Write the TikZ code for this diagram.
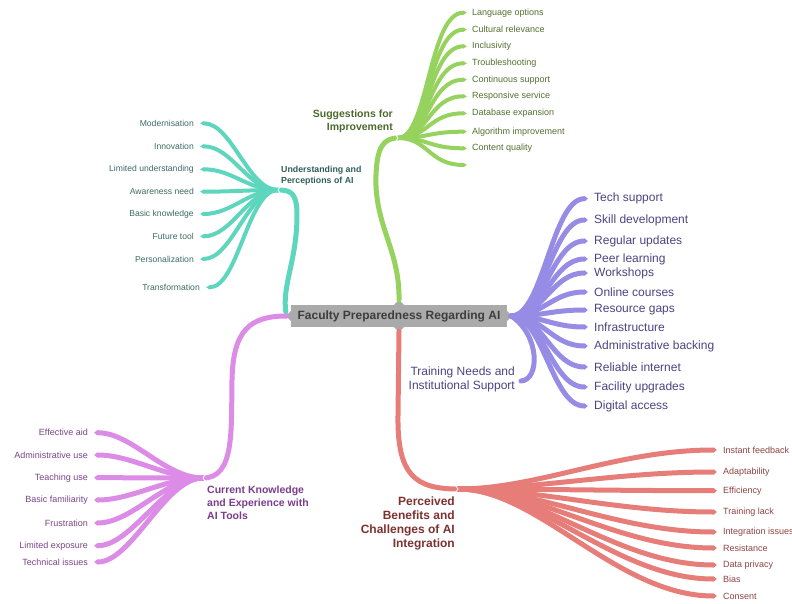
\documentclass[tikz,border=0pt]{standalone}
\usepackage{fontspec}
\setmainfont{Liberation Sans}
\usetikzlibrary{arrows.meta}
\definecolor{cgreen}{HTML}{96D25E}
\definecolor{cteal}{HTML}{5ED6BE}
\definecolor{cpurple}{HTML}{968CE6}
\definecolor{cred}{HTML}{E67D78}
\definecolor{cpink}{HTML}{DC8CE6}
\definecolor{cgray}{HTML}{AAAAAA}
\definecolor{tgreen}{HTML}{52702F}
\definecolor{tteal}{HTML}{3C6B64}
\definecolor{tpurple}{HTML}{4B4382}
\definecolor{tred}{HTML}{8E4242}
\definecolor{tpink}{HTML}{7A4486}
\definecolor{lgreen}{HTML}{4C6A2C}
\definecolor{lteal}{HTML}{2E5E58}
\definecolor{lpink}{HTML}{7B3C8E}
\definecolor{lred}{HTML}{7D3131}
\definecolor{tgray}{HTML}{3D3D3D}
\begin{document}
\begin{tikzpicture}[x=1pt,y=-1pt,
  stem/.style={line width=5pt, line cap=round},
  leaf/.style={line width=#1, line cap=round, -{Triangle[length=4pt,width=0pt 1]}},
  leaf/.default=4.5pt,
  ltxt/.style={inner sep=0pt, font=\fontsize{9}{11}\selectfont},
  chev/.style={white, line width=0.8pt},
]
\useasboundingbox (0,0) rectangle (792,604);

% central node
\node[fill=cgray, text=tgray, minimum width=216pt, minimum height=22pt, inner sep=0pt,
      font=\fontsize{12}{14}\selectfont\bfseries] (c) at (399,316) {Faculty Preparedness Regarding AI};
\fill[cgray] ([yshift=5pt]c.north) -- ([xshift=5pt]c.north) -- ([xshift=-5pt]c.north) -- cycle;
\fill[cgray] ([yshift=-5pt]c.south) -- ([xshift=5pt]c.south) -- ([xshift=-5pt]c.south) -- cycle;
\fill[cgray] ([xshift=-5pt]c.west) -- ([yshift=5pt]c.west) -- ([yshift=-5pt]c.west) -- cycle;
\fill[cgray] ([xshift=5pt]c.east) -- ([yshift=5pt]c.east) -- ([yshift=-5pt]c.east) -- cycle;

% ---------------- green: Suggestions for Improvement
\coordinate (jg) at (398,138);
\begin{scope}[on background layer/.style={}]
\draw[stem, cgreen] ([yshift=5pt]c.north) .. controls (400,250) and (374,225) .. (376,175)
   .. controls (377,148) and (383,138) .. (jg);
\end{scope}
\foreach \t/\y [count=\i] in {Language options/12.7, Cultural relevance/29.7, Inclusivity/46.3,
   Troubleshooting/63.3, Continuous support/79.7, Responsive service/96.3,
   Database expansion/113.3, Algorithm improvement/131.7, Content quality/148.3}{
  \node[ltxt, text=tgreen, anchor=west] (g\i) at (472,\y) {\t};
  \draw[leaf=4pt, cgreen] (jg) .. controls +(30,0) and +(-38,0) .. ([xshift=-5pt]g\i.west);
}
\coordinate (g10) at (467,165);
\draw[leaf=4pt, cgreen] (jg) .. controls +(30,0) and +(-38,0) .. (g10);
\draw[chev] ([shift={(-2,-3)}]jg) -- (jg) -- ([shift={(-2,3)}]jg);
\node[anchor=east, align=right, inner sep=0pt, text=lgreen,
      font=\fontsize{10.5}{13}\selectfont\bfseries] (lg) at (393,121.5) {Suggestions for\\Improvement};

% ---------------- teal: Understanding and Perceptions of AI
\coordinate (jt) at (278,190);
\draw[stem, cteal] ([xshift=-5pt,yshift=4pt]c.west) .. controls (282,285) and (297,260) .. (297,215)
   .. controls (297,192) and (290,190) .. (jt);
\foreach \t/\y [count=\i] in {Modernisation/123.3, Innovation/146.3, Limited understanding/169.3,
   Awareness need/191.7, Basic knowledge/214, Future tool/236.3, Personalization/259}{
  \node[ltxt, text=tteal, anchor=east, font=\fontsize{8.6}{10}\selectfont] (t\i) at (194,\y) {\t};
  \draw[leaf=4pt, cteal] (jt) .. controls +(-30,0) and +(32,0) .. ([xshift=6pt]t\i.east);
}
\node[ltxt, text=tteal, anchor=east, font=\fontsize{8.6}{10}\selectfont] (t8) at (200,287.3) {Transformation};
\draw[leaf=4pt, cteal] (jt) .. controls +(-30,0) and +(32,0) .. ([xshift=6pt]t8.east);
\draw[chev] ([shift={(2,-3)}]jt) -- (jt) -- ([shift={(2,3)}]jt);
\node[anchor=west, align=left, inner sep=0pt, text=lteal,
      font=\fontsize{8.8}{11}\selectfont\bfseries] (lt) at (281,175.5) {Understanding and\\Perceptions of AI};

% ---------------- pink: Current Knowledge and Experience with AI Tools
\coordinate (jp) at (203,478);
\draw[stem, cpink] ([xshift=-4pt]c.west) .. controls (250,316) and (233,330) .. (232,380)
   .. controls (231,430) and (235,478) .. (jp);
\foreach \t/\y [count=\i] in {Effective aid/432.7, Administrative use/455, Teaching use/477.7,
   Basic familiarity/500, Frustration/523, Limited exposure/545.7, Technical issues/562}{
  \node[ltxt, text=tpink, anchor=east] (p\i) at (88,\y) {\t};
  \draw[leaf=5pt, cpink] (jp) .. controls +(-38,0) and +(38,0) .. ([xshift=6pt]p\i.east);
}
\draw[chev] ([shift={(2,-3)}]jp) -- (jp) -- ([shift={(2,3)}]jp);
\node[anchor=west, align=left, inner sep=0pt, text=lpink,
      font=\fontsize{10.5}{13}\selectfont\bfseries] (lp) at (207,503) {Current Knowledge\\and Experience with\\AI Tools};

% ---------------- purple: Training Needs and Institutional Support
\coordinate (jb) at ([xshift=4pt]c.east);
\foreach \t/\y [count=\i] in {Tech support/198.7, Skill development/220, Regular updates/241,
   Peer learning/259, Workshops/273, Online courses/292, Resource gaps/310, Infrastructure/327,
   Administrative backing/346, Reliable internet/367, Facility upgrades/387, Digital access/406}{
  \node[ltxt, text=tpurple, anchor=west, font=\fontsize{12}{14}\selectfont] (b\i) at (594,\y) {\t};
  \draw[leaf=5pt, cpurple] (jb) .. controls +(32,0) and +(-36,0) .. ([xshift=-6pt]b\i.west);
}
\node[anchor=east, align=right, inner sep=0pt, text=tpurple,
      font=\fontsize{12}{14}\selectfont] (lb) at (515,379) {Training Needs and\\Institutional Support};
\draw[stem, cpurple] (jb) .. controls (540,335) and (540,380) .. ([xshift=6pt,yshift=-2pt]lb.east);

% ---------------- red: Perceived Benefits and Challenges of AI Integration
\coordinate (jr) at (458,489);
\draw[stem, cred] ([yshift=-4pt]c.south) -- (398,415) .. controls (397,475) and (415,489) .. (jr);
\foreach \t/\y [count=\i] in {Instant feedback/450, Adaptability/472, Efficiency/490.7,
   Training lack/512, Integration issues/532, Resistance/548, Data privacy/565, Bias/579, Consent/596}{
  \node[ltxt, text=tred, anchor=west] (r\i) at (723,\y) {\t};
  \draw[leaf=5pt, cred] (jr) .. controls +(80,0) and +(-100,0) .. ([xshift=-6pt]r\i.west);
}
\draw[chev] ([shift={(-2,-3)}]jr) -- (jr) -- ([shift={(-2,3)}]jr);
\node[anchor=east, align=right, inner sep=0pt, text=lred,
      font=\fontsize{12}{14}\selectfont\bfseries] (lr) at (455,523) {Perceived\\Benefits and\\Challenges of AI\\Integration};
\end{tikzpicture}
\end{document}
